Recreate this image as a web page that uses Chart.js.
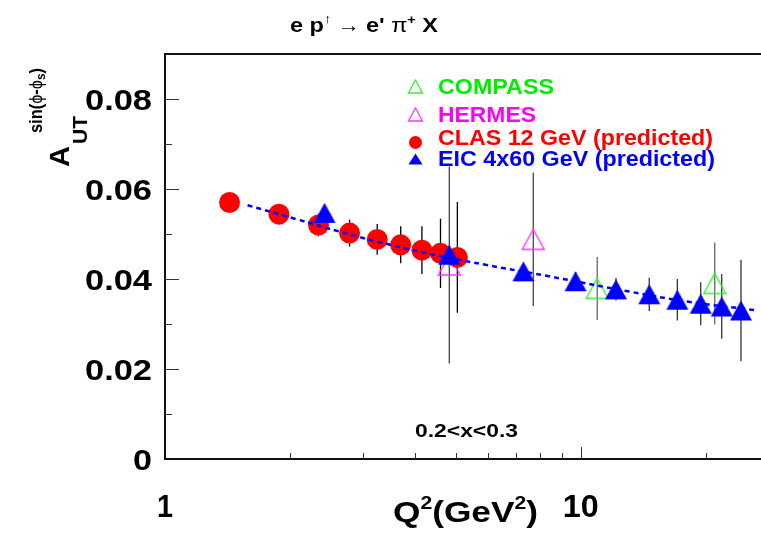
<!DOCTYPE html>
<html>
<head>
<meta charset="utf-8">
<title>A_UT sin(phi-phiS) vs Q2</title>
<script src="https://cdn.jsdelivr.net/npm/chart.js@4.4.0/dist/chart.umd.min.js"></script>
<style>
  html, body { margin: 0; padding: 0; background: #fff; overflow: hidden; }
  #wrap { width: 761px; height: 533px; }
</style>
</head>
<body>
<div id="wrap"><canvas id="chart" width="761" height="533"></canvas></div>
<script>
// Values (Q^2 in GeV^2, asymmetry, error)
const clasQ2 = [1.43, 1.88, 2.34, 2.78, 3.24, 3.69, 4.15, 4.60, 5.05];
const clasA = [0.0570, 0.0544, 0.0520, 0.0502, 0.0488, 0.0476, 0.0464, 0.0457, 0.0448];
const clasErr = [0.0010, 0.0018, 0.0025, 0.0030, 0.0034, 0.0041, 0.0053, 0.0077, 0.0123];

const eicQ2 = [2.42, 4.83, 7.28, 9.72, 12.16, 14.62, 17.08, 19.44, 21.84, 24.30];
const eicA = [0.0547, 0.0454, 0.0417, 0.0395, 0.0377, 0.0366, 0.0354, 0.0345, 0.0339, 0.0330];
const eicErr = [0.0010, 0.0015, 0.0015, 0.0020, 0.0025, 0.0037, 0.0046, 0.0048, 0.0072, 0.0113];

const hermesQ2 = [4.83, 7.69];
const hermesA = [0.0431, 0.0488];
const hermesErr = [0.0219, 0.0148];

const compassQ2 = [10.96, 21.01];
const compassA = [0.0379, 0.0390];
const compassErr = [0.0070, 0.0091];

// dashed curve through the predictions
const curveQ2 = [1.58, 2.07, 2.64, 3.48, 4.60, 5.94, 8.28, 13.1, 18.0, 26.7];
const curveA = [0.0564, 0.0533, 0.0505, 0.0476, 0.0451, 0.0431, 0.0407, 0.0372, 0.0350, 0.0330];

const xLabelTicks = [1, 10];
const xMinorTicks = [2, 3, 4, 5, 6, 7, 8, 9, 10, 20];
const yLabelTicks = [0, 0.02, 0.04, 0.06, 0.08];

const FONT = "'Liberation Sans', Arial, sans-serif";

const toPoints = (xs, ys) => xs.map((x, i) => ({ x: x, y: ys[i] }));

// ROOT-like triangle markers, centred on the middle of their height
function makeTriangle(w, h, fill, stroke, lw) {
	const c = document.createElement('canvas');
	c.width = w + 4;
	c.height = h + 4;
	const g = c.getContext('2d');
	g.beginPath();
	g.moveTo(c.width / 2, 2);
	g.lineTo(c.width - 2, h + 2);
	g.lineTo(2, h + 2);
	g.closePath();
	if (fill) {
		g.fillStyle = fill;
		g.fill();
	}
	if (stroke) {
		g.strokeStyle = stroke;
		g.lineWidth = lw;
		g.stroke();
	}
	return c;
}

const eicMarker = makeTriangle(22, 20, '#0000ff', null, 0);
const compassMarker = makeTriangle(22, 20, null, '#33ee33', 1.4);
const hermesMarker = makeTriangle(22, 20, null, '#ff33ff', 1.4);

// draws a run of text pieces, optionally squeezed/stretched to a width
function drawRun(ctx, pieces, x, y, width, align) {
	let total = 0;
	pieces.forEach((p) => {
		ctx.font = p.font;
		p.w = ctx.measureText(p.text).width;
		total += p.w;
	});
	const sx = width ? width / total : 1;
	const w = total * sx;
	if (align === 'right') x -= w;
	if (align === 'center') x -= w / 2;
	ctx.save();
	ctx.translate(x, y);
	ctx.scale(sx, 1);
	ctx.textAlign = 'left';
	ctx.textBaseline = 'alphabetic';
	let cx = 0;
	pieces.forEach((p) => {
		ctx.font = p.font;
		ctx.fillStyle = p.color || '#000';
		ctx.fillText(p.text, cx, p.dy || 0);
		cx += p.w;
	});
	ctx.restore();
}

const errorBars = {
	id: 'errorBars',
	beforeDatasetsDraw(chart) {
		const ctx = chart.ctx;
		const ys = chart.scales.y;
		const area = chart.chartArea;
		ctx.save();
		ctx.beginPath();
		ctx.rect(area.left, area.top, area.right - area.left, area.bottom - area.top);
		ctx.clip();
		chart.data.datasets.forEach((ds, i) => {
			if (!ds.errors) return;
			const meta = chart.getDatasetMeta(i);
			ctx.strokeStyle = ds.errorColor;
			ctx.lineWidth = 1.3;
			meta.data.forEach((el, j) => {
				const v = ds.data[j].y;
				ctx.beginPath();
				ctx.moveTo(el.x, ys.getPixelForValue(v + ds.errors[j]));
				ctx.lineTo(el.x, ys.getPixelForValue(v - ds.errors[j]));
				ctx.stroke();
			});
		});
		ctx.restore();
	},
};

const frameAndText = {
	id: 'frameAndText',
	afterDraw(chart) {
		const ctx = chart.ctx;
		const { left, right, top, bottom } = chart.chartArea;
		const xs = chart.scales.x;
		const ys = chart.scales.y;

		ctx.save();
		// top frame line
		ctx.strokeStyle = '#111';
		ctx.lineWidth = 2;
		ctx.beginPath();
		ctx.moveTo(left, top);
		ctx.lineTo(right, top);
		ctx.stroke();

		// inward tick marks
		ctx.lineWidth = 1;
		ctx.strokeStyle = '#333';
		for (let k = 1; k <= 8; k++) {
			const py = Math.round(ys.getPixelForValue(k / 100)) + 0.5;
			const len = k % 2 === 0 ? 14 : 7;
			ctx.beginPath();
			ctx.moveTo(left, py);
			ctx.lineTo(left + len, py);
			ctx.stroke();
		}
		xMinorTicks.forEach((v) => {
			const px = Math.round(xs.getPixelForValue(v)) + 0.5;
			const len = v === 10 ? 12 : 6;
			ctx.beginPath();
			ctx.moveTo(px, bottom);
			ctx.lineTo(px, bottom - len);
			ctx.stroke();
		});

		// tick labels, placed from the scales (ROOT text is wider than Arial)
		yLabelTicks.forEach((v) => {
			const py = ys.getPixelForValue(v);
			drawRun(ctx, [{ text: String(v), font: `bold 29px ${FONT}` }],
				152, py + 10.5, String(v).length === 1 ? 19 : 67, 'right');
		});
		xLabelTicks.forEach((v) => {
			const px = xs.getPixelForValue(v);
			drawRun(ctx, [{ text: String(v), font: `bold 31px ${FONT}` }],
				px, 517, String(v).length === 1 ? 16 : 36, 'center');
		});

		// title
		drawRun(ctx, [
			{ text: 'e p', font: `bold 21px ${FONT}` },
			{ text: '\u2191', font: `13px ${FONT}`, dy: -9 },
			{ text: ' \u2192 ', font: `20px ${FONT}` },
			{ text: "e' ", font: `bold 21px ${FONT}` },
			{ text: '\u03c0', font: `21px ${FONT}` },
			{ text: '+', font: `bold 13px ${FONT}`, dy: -8 },
			{ text: ' X', font: `bold 21px ${FONT}` },
		], 290, 32, 148);

		// x axis title
		drawRun(ctx, [
			{ text: 'Q', font: `bold 30px ${FONT}` },
			{ text: '2', font: `bold 18px ${FONT}`, dy: -13 },
			{ text: '(GeV', font: `bold 30px ${FONT}` },
			{ text: '2', font: `bold 18px ${FONT}`, dy: -13 },
			{ text: ')', font: `bold 30px ${FONT}` },
		], 393, 522, 145);

		// y axis title, rotated
		ctx.save();
		ctx.translate(69, 167);
		ctx.rotate(-Math.PI / 2);
		drawRun(ctx, [{ text: 'A', font: `bold 28px ${FONT}` }], 0, 0, 21);
		drawRun(ctx, [{ text: 'UT', font: `bold 21px ${FONT}` }], 23, 18);
		drawRun(ctx, [
			{ text: 'sin(', font: `bold 18px ${FONT}` },
			{ text: '\u03d5', font: `18px ${FONT}` },
			{ text: '-', font: `bold 18px ${FONT}` },
			{ text: '\u03d5', font: `18px ${FONT}` },
			{ text: 's', font: `bold 13px ${FONT}`, dy: 3 },
			{ text: ')', font: `bold 18px ${FONT}` },
		], 34, -27, 65);
		ctx.restore();

		// kinematic bin label
		drawRun(ctx, [{ text: '0.2<x<0.3', font: `bold 19px ${FONT}` }], 415, 437, 103);

		// legend
		const mx = 415.5;
		ctx.lineWidth = 1.3;
		const tri = (cy, w, h) => {
			ctx.beginPath();
			ctx.moveTo(mx, cy - h / 2);
			ctx.lineTo(mx + w / 2, cy + h / 2);
			ctx.lineTo(mx - w / 2, cy + h / 2);
			ctx.closePath();
		};
		ctx.strokeStyle = '#33ee33';
		tri(86.5, 14, 13);
		ctx.stroke();
		ctx.strokeStyle = '#ff33ff';
		tri(114.5, 14, 13);
		ctx.stroke();
		ctx.fillStyle = '#ff0000';
		ctx.beginPath();
		ctx.arc(mx, 142.5, 6.5, 0, Math.PI * 2);
		ctx.fill();
		ctx.fillStyle = '#0000ff';
		tri(159, 14, 11);
		ctx.fill();

		const lf = `bold 22px ${FONT}`;
		drawRun(ctx, [{ text: 'COMPASS', font: lf, color: '#00ee00' }], 438, 94, 116);
		drawRun(ctx, [{ text: 'HERMES', font: lf, color: '#ff00ff' }], 438, 122, 98);
		drawRun(ctx, [{ text: 'CLAS 12 GeV (predicted)', font: lf, color: '#ff0000' }], 438, 145, 275);
		drawRun(ctx, [{ text: 'EIC 4x60 GeV (predicted)', font: lf, color: '#0000ff' }], 438, 166, 277);
		ctx.restore();
	},
};

new Chart(document.getElementById('chart'), {
	type: 'scatter',
	data: {
		datasets: [
			{
				label: 'EIC 4x60 GeV (predicted)',
				data: toPoints(eicQ2, eicA),
				errors: eicErr,
				errorColor: '#333',
				pointStyle: eicMarker,
			},
			{
				label: 'curve',
				data: toPoints(curveQ2, curveA),
				showLine: true,
				borderColor: '#0000ff',
				borderWidth: 2.5,
				borderDash: [5, 4],
				tension: 0.4,
				pointRadius: 0,
			},
			{
				label: 'CLAS 12 GeV (predicted)',
				data: toPoints(clasQ2, clasA),
				errors: clasErr,
				errorColor: '#000',
				pointStyle: 'circle',
				pointRadius: 10.5,
				backgroundColor: '#ff0000',
				borderWidth: 0,
			},
			{
				label: 'COMPASS',
				data: toPoints(compassQ2, compassA),
				errors: compassErr,
				errorColor: '#666',
				pointStyle: compassMarker,
			},
			{
				label: 'HERMES',
				data: toPoints(hermesQ2, hermesA),
				errors: hermesErr,
				errorColor: '#444',
				pointStyle: hermesMarker,
			},
		],
	},
	options: {
		responsive: false,
		animation: false,
		devicePixelRatio: 1,
		layout: { autoPadding: false, padding: { top: 54, right: 0, left: 0, bottom: 0 } },
		plugins: {
			legend: { display: false },
			tooltip: { enabled: false },
		},
		scales: {
			x: {
				type: 'logarithmic',
				min: 1,
				max: 27.15,
				grid: { display: false, drawTicks: false },
				border: { display: true, color: '#111', width: 2 },
				afterBuildTicks: (scale) => {
					scale.ticks = xLabelTicks.map((v) => ({ value: v }));
				},
				afterFit: (scale) => {
					scale.height = 74;
				},
				ticks: { display: false },
			},
			y: {
				min: 0,
				max: 0.09,
				grid: { display: false, drawTicks: false },
				border: { display: true, color: '#111', width: 2 },
				afterBuildTicks: (scale) => {
					scale.ticks = yLabelTicks.map((v) => ({ value: v }));
				},
				afterFit: (scale) => {
					scale.width = 165;
				},
				ticks: { display: false },
			},
		},
	},
	plugins: [errorBars, frameAndText],
});
</script>
</body>
</html>
